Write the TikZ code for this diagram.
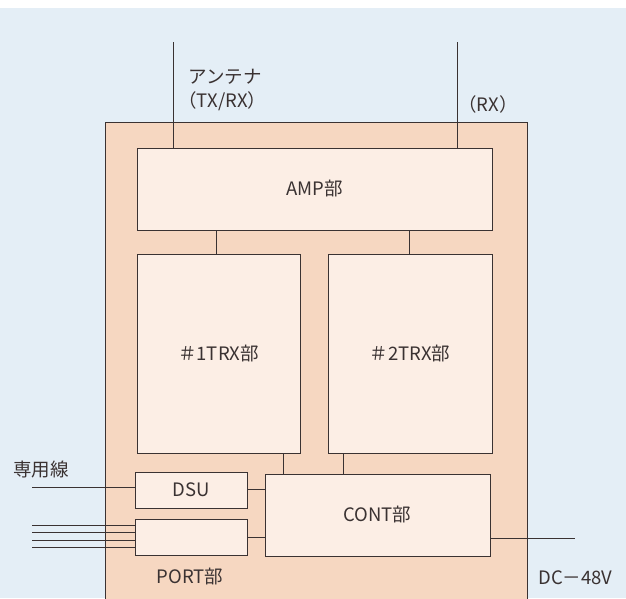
\documentclass[tikz,border=0pt]{standalone}
\usepackage{fontspec}
\setmainfont{Noto Sans CJK JP}
\usetikzlibrary{calc}
\definecolor{bgblue}{HTML}{E4EEF6}
\definecolor{peach}{HTML}{F6D7C1}
\definecolor{cream}{HTML}{FCEEE5}
\definecolor{ink}{HTML}{3A3232}
\begin{document}
\begin{tikzpicture}[x=1pt,y=-1pt,line width=0.8pt,
  blk/.style={draw=ink,fill=cream,inner sep=0pt,font=\fontsize{18.5}{22}\selectfont,text=ink},
  lbl/.style={inner sep=0pt,font=\fontsize{18.5}{22}\selectfont,text=ink},
  wire/.style={draw=ink}]
\useasboundingbox (0,0) rectangle (626,598);
\fill[white] (0,0) rectangle (626,598);
\fill[bgblue] (0,8) rectangle (626,598);
\begin{scope}
\clip (0,0) rectangle (626,598);
\draw[ink,fill=peach] (105,122) rectangle (527,610);
\end{scope}
% blocks
\node[blk,minimum width=355,minimum height=82] (amp) at (314.5,189) {AMP部};
\node[blk,minimum width=163,minimum height=199] (trx1) at (218.5,353.5) {＃1TRX部};
\node[blk,minimum width=164,minimum height=199] (trx2) at (410,353.5) {＃2TRX部};
\node[blk,minimum width=112,minimum height=36] (dsu) at (191,490) {DSU};
\node[blk,minimum width=112,minimum height=36] (port) at (191,537) {};
\node[blk,minimum width=225,minimum height=82] (cont) at (377.5,515) {CONT部};
% labels
\node[lbl,anchor=west] (antlbl) at (188,77) {アンテナ};
\node[lbl,anchor=west] (txrx) at (178,101) {（TX/RX）};
\node[lbl,anchor=west] (rx) at (458,104) {（RX）};
\node[lbl,anchor=west] (senyo) at (13,469) {専用線};
\node[lbl] (portlbl) at (190,577) {PORT部};
\node[lbl,anchor=west] (dc) at (538,578) {DC－48V};
% antennas
\coordinate (ant1) at (173,42);
\coordinate (ant2) at (457,42);
\draw[wire] (ant1) -- (ant1 |- amp.north);
\draw[wire] (ant2) -- (ant2 |- amp.north);
% amp to trx
\draw[wire] ($(trx1.north)+(-2,0)$) -- ($(trx1.north |- amp.south)+(-2,0)$);
\draw[wire] ($(trx2.north)+(-1,0)$) -- ($(trx2.north |- amp.south)+(-1,0)$);
% trx to cont
\draw[wire] ($(cont.north west)+(19,0)$) -- ($(cont.north west |- trx1.south)+(19,0)$);
\draw[wire] ($(cont.north west)+(79,0)$) -- ($(cont.north west |- trx2.south)+(79,0)$);
% dsu/port to cont
\draw[wire] ($(dsu.east)+(0,-1)$) -- ($(dsu.east -| cont.west)+(0,-1)$);
\draw[wire] (port.east) -- (port.east -| cont.west);
% leased line
\coordinate (sl) at (32,487);
\draw[wire] (sl) -- (sl -| dsu.west);
% port lines
\foreach \y/\n in {525/pa,532/pb,540/pc,547/pd}{
  \coordinate (\n) at (32,\y);
  \draw[wire] (\n) -- (\n -| port.west);
}
% dc line
\coordinate (dcend) at (575,538);
\draw[wire] (dcend -| cont.east) -- (dcend);
\end{tikzpicture}
\end{document}
